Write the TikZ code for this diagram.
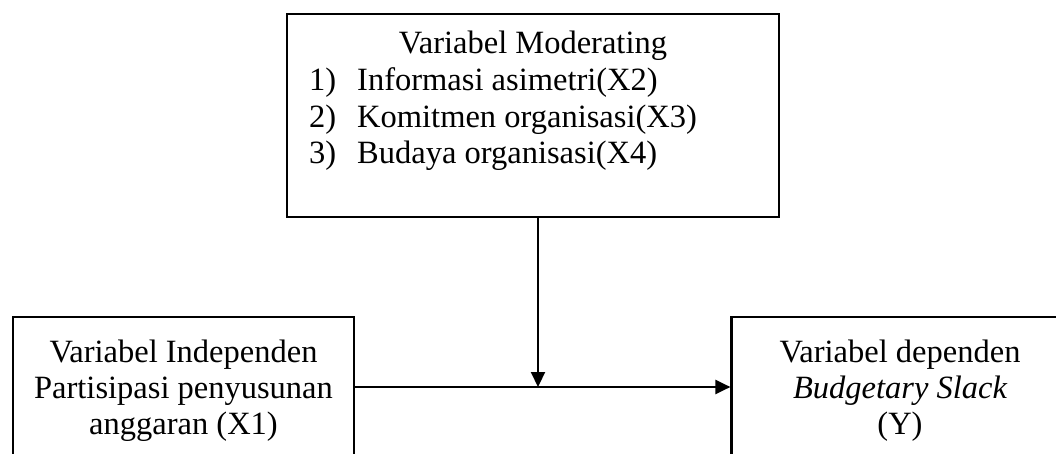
\documentclass[tikz,border=0pt]{standalone}
\usepackage{fontspec}
\setmainfont{Liberation Serif}
\usetikzlibrary{arrows.meta}
\begin{document}
\begin{tikzpicture}[x=1pt,y=-1pt,
  box/.style={draw=black,line width=2.2pt,inner sep=0pt,minimum width=#1},
  txt/.style={inner sep=0pt,anchor=base,font=\fontsize{32.5}{36}\selectfont},
  litem/.style={inner sep=0pt,anchor=base west,font=\fontsize{32.5}{36}\selectfont},
  link/.style={line width=2.2pt,-{Triangle[length=15pt,width=14pt]}}]
\useasboundingbox (0,0) rectangle (1056,454);
\clip (0,0) rectangle (1056,454);
% boxes
\node[box=492pt,minimum height=203pt] (mod) at (533,115.5) {};
\node[box=341pt,minimum height=170pt] (indep) at (183.5,402) {};
\node[box=337pt,minimum height=170pt] (dep) at (900,402) {};
% moderating variables
\node[txt] (modT) at (533,54) {Variabel Moderating};
\node[litem] (n1) at (309,91) {1)};
\node[litem] (i1) at (357,91) {Informasi asimetri(X2)};
\node[litem] (n2) at (309,127.5) {2)};
\node[litem] (i2) at (357,127.5) {Komitmen organisasi(X3)};
\node[litem] (n3) at (309,164) {3)};
\node[litem] (i3) at (357,164) {Budaya organisasi(X4)};
% independent variable
\node[txt] (inT1) at (183.5,362) {Variabel Independen};
\node[txt] (inT2) at (183.5,398) {Partisipasi penyusunan};
\node[txt] (inT3) at (183.5,434) {anggaran (X1)};
% dependent variable
\node[txt] (deT1) at (900,362) {Variabel dependen};
\node[txt] (deT2) at (900,398) {\itshape Budgetary Slack};
\node[txt] (deT3) at (900,434) {(Y)};
% connectors
\coordinate (j) at (538,387);
\draw[link] (indep.east |- j) -- (dep.west |- j);
\draw[link] (j |- mod.south) -- (j);
\end{tikzpicture}
\end{document}
